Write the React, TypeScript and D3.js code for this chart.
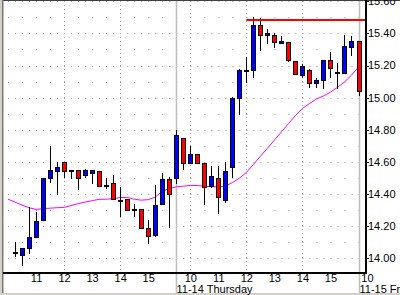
import React from "react";
import * as d3 from "d3";

// ---------- data ----------
// 15-minute bars; first domain point (11-13 10:00) only carries the moving average,
// the last two (11-15 09:45, 10:00) are axis-only slots.
const sessionDates = ["11-13", "11-14", "11-15"];
const sessionStarts = ["10:00", "09:30", "09:30"];
const sessionEnds = ["15:45", "15:45", "10:00"];

const opens = [14.04, 14.02, 14.06, 14.13, 14.24, 14.50, 14.54, 14.60, 14.54, 14.55,
  14.52, 14.53, 14.54, 14.457, 14.47, 14.363, 14.37, 14.307, 14.305, 14.19,
  14.145, 14.34, 14.49, 14.50, 14.75, 14.59, 14.65, 14.59, 14.45, 14.50,
  14.36, 14.57, 15.00, 15.172, 15.17, 15.45, 15.388, 15.39, 15.338, 15.348,
  15.23, 15.14, 15.17, 15.09, 15.107, 15.232, 15.157, 15.151, 15.317, 15.35];
const highs = [14.10, 14.06, 14.32, 14.29, 14.50, 14.70, 14.60, 14.60, 14.55, 14.55,
  14.555, 14.55, 14.54, 14.50, 14.52, 14.44, 14.37, 14.34, 14.305, 14.24,
  14.455, 14.53, 14.505, 14.80, 14.75, 14.70, 14.65, 14.59, 14.575, 14.575,
  14.60, 15.005, 15.18, 15.25, 15.50, 15.495, 15.425, 15.404, 15.383, 15.348,
  15.23, 15.207, 15.18, 15.124, 15.232, 15.286, 15.213, 15.39, 15.383, 15.35];
const lows = [14.01, 13.96, 14.03, 14.13, 14.24, 14.475, 14.40, 14.505, 14.50, 14.43,
  14.505, 14.47, 14.45, 14.435, 14.37, 14.26, 14.30, 14.26, 14.19, 14.095,
  14.14, 14.34, 14.195, 14.47, 14.555, 14.59, 14.59, 14.34, 14.44, 14.28,
  14.35, 14.505, 14.90, 15.10, 15.13, 15.295, 15.34, 15.317, 15.338, 15.228,
  15.15, 15.13, 15.065, 15.067, 15.057, 15.126, 15.057, 15.151, 15.265, 15.016];
const closes = [14.03, 14.06, 14.13, 14.23, 14.50, 14.55, 14.57, 14.54, 14.55, 14.50,
  14.55, 14.55, 14.45, 14.452, 14.37, 14.358, 14.30, 14.302, 14.19, 14.14,
  14.33, 14.49, 14.40, 14.77, 14.59, 14.65, 14.59, 14.44, 14.51, 14.38,
  14.54, 15.00, 15.17, 15.168, 15.45, 15.39, 15.404, 15.348, 15.354, 15.234,
  15.15, 15.20, 15.09, 15.109, 15.232, 15.182, 15.153, 15.321, 15.352, 15.041];
const movingAverage = [14.367, 14.349, 14.330, 14.314, 14.303, 14.308, 14.311, 14.314, 14.316, 14.327,
  14.339, 14.349, 14.358, 14.366, 14.367, 14.370, 14.377, 14.378, 14.367, 14.361,
  14.364, 14.380, 14.417, 14.433, 14.444, 14.448, 14.453, 14.452, 14.448, 14.445,
  14.444, 14.448, 14.470, 14.498, 14.533, 14.583, 14.634, 14.684, 14.735, 14.786,
  14.837, 14.888, 14.932, 14.963, 14.991, 15.010, 15.034, 15.064, 15.097, 15.140, 15.190];

const highLevel = 15.483;
const highLevelStart = "11-14 12:00";

const yMajorTicks = [14.0, 14.2, 14.4, 14.6, 14.8, 15.0, 15.2, 15.4, 15.6];
const yMinorTicks = [14.1, 14.3, 14.5, 14.7, 14.9, 15.1, 15.3, 15.5];
const hourTicks = ["11-13 11:00", "11-13 12:00", "11-13 13:00", "11-13 14:00", "11-13 15:00",
  "11-14 10:00", "11-14 11:00", "11-14 12:00", "11-14 13:00", "11-14 14:00", "11-14 15:00",
  "11-15 10:00"];
const hourLabels = ["11", "12", "13", "14", "15", "10", "11", "12", "13", "14", "15", "10"];
const gridTimes = ["11-13 12:00", "11-13 14:00", "11-14 10:00", "11-14 12:00", "11-14 14:00"];
const dayStarts = ["11-14 09:30", "11-15 09:30"];
const dayLabels = ["11-14 Thursday", "11-15 Friday"];

// ---------- build ids ----------
function quarterHours(from: string, to: string): string[] {
  const toMin = (s: string) => +s.slice(0, 2) * 60 + +s.slice(3);
  const out: string[] = [];
  for (let m = toMin(from); m <= toMin(to); m += 15) {
    out.push(String(Math.floor(m / 60)).padStart(2, "0") + ":" + String(m % 60).padStart(2, "0"));
  }
  return out;
}
const allIds: string[] = [];
sessionDates.forEach((d, k) => quarterHours(sessionStarts[k], sessionEnds[k]).forEach((t) => allIds.push(d + " " + t)));
const maIds = allIds.slice(0, movingAverage.length);
const candleIds = allIds.slice(1, 1 + opens.length);

// ---------- layout ----------
const W = 400, H = 295;
const STEP = 7.01;
const plotRight = 365;
const axisY = 272;
const FONT = "'Liberation Sans', Arial, sans-serif";

export default function App() {
  const x = d3.scalePoint<string>().domain(allIds).range([8, 8 + (allIds.length - 1) * STEP]);
  const y = d3.scaleLinear().domain([14, 15.6]).range([258.1, 1.3]);
  const px = (id: string) => Math.round(x(id) as number);
  const crisp = (v: number) => Math.round(v) + 0.5;

  const maLine = d3.line<number>()
    .x((_, i) => x(maIds[i]) as number)
    .y((v) => y(v));

  const gridStart = x(allIds[0]) as number;

  return (
    <svg width={W} height={H} style={{ position: "absolute", left: 0, top: 0, background: "#fff" }}
      fontFamily={FONT}>
      <rect x={0} y={0} width={W} height={H} fill="#ffffff" />
      {/* horizontal dotted grid */}
      {yMajorTicks.map((v) => (
        <line key={"gM" + v} x1={gridStart} x2={plotRight} y1={crisp(y(v))} y2={crisp(y(v))}
          stroke="#9a9a9a" strokeWidth={1} strokeDasharray={`1 ${STEP - 1}`} />
      ))}
      {yMinorTicks.map((v) => (
        <line key={"gm" + v} x1={gridStart} x2={plotRight} y1={crisp(y(v))} y2={crisp(y(v))}
          stroke="#9a9a9a" strokeWidth={1} strokeDasharray={`1 ${2 * STEP - 1}`} />
      ))}
      {/* vertical dotted grid */}
      {gridTimes.map((id) => (
        <line key={"gv" + id} x1={px(id) + 0.5} x2={px(id) + 0.5} y1={1} y2={277}
          stroke="#a8a8a8" strokeWidth={1} strokeDasharray="1 3" />
      ))}
      {/* day separators */}
      {dayStarts.map((id) => (
        <line key={"ds" + id} x1={px(id) + 0.5} x2={px(id) + 0.5} y1={1} y2={293}
          stroke="#c0c0c0" strokeWidth={1.6} />
      ))}
      {/* moving average */}
      <path d={maLine(movingAverage) || ""} fill="none" stroke="#ff00ff" strokeWidth={1} />
      {/* candles */}
      {candleIds.map((id, i) => {
        const c = px(id);
        const o = opens[i], cl = closes[i];
        const top = Math.round(y(Math.max(o, cl))) + 0.5;
        let bot = Math.round(y(Math.min(o, cl))) + 0.5;
        if (bot - top < 1) bot = top + 1;
        const up = cl >= o;
        return (
          <g key={id}>
            <line x1={c + 0.5} x2={c + 0.5} y1={Math.round(y(highs[i]))} y2={Math.round(y(lows[i])) + 1}
              stroke="#000" strokeWidth={1} />
            <rect x={c - 1.5} y={top} width={4} height={bot - top}
              fill={up ? "#0000ff" : "#ff0000"} stroke="#000" strokeWidth={1} />
          </g>
        );
      })}
      {/* high level line */}
      <line x1={x(highLevelStart) as number} x2={plotRight} y1={y(highLevel)} y2={y(highLevel)}
        stroke="#ff0000" strokeWidth={2} />
      {/* frame */}
      <rect x={0} y={0} width={W} height={1} fill="#404040" />
      <rect x={0} y={0} width={2} height={H} fill="#d4d0c8" />
      <rect x={2} y={0} width={1.5} height={H} fill="#777777" />
      <rect x={0} y={293} width={W} height={2} fill="#d4d0c8" />
      {/* axes */}
      <rect x={3} y={axisY} width={plotRight + 2 - 3} height={2} fill="#000" />
      <rect x={plotRight} y={0} width={2} height={axisY + 2} fill="#000" />
      {/* y labels */}
      {yMajorTicks.map((v) => (
        <g key={"yl" + v}>
          <line x1={plotRight + 2} x2={plotRight + 4} y1={crisp(y(v))} y2={crisp(y(v))} stroke="#000" />
          <text x={plotRight + 3} y={y(v)} dy="0.36em" fontSize={11} fill="#000">{v.toFixed(2)}</text>
        </g>
      ))}
      {/* x hour labels */}
      {hourTicks.map((id, k) => {
        const xv = x(id) as number;
        const beyond = xv > plotRight;
        return (
          <text key={"xl" + id} x={beyond ? xv + 1 : xv + 0.5} y={281.5} fontSize={11}
            textAnchor={beyond ? "end" : "middle"} fill="#000">{hourLabels[k]}</text>
        );
      })}
      {/* day labels */}
      {dayStarts.map((id, k) => (
        <text key={"dl" + id} x={px(id) + 0.5} y={292.5} fontSize={11} fill="#000">{dayLabels[k]}</text>
      ))}
    </svg>
  );
}
